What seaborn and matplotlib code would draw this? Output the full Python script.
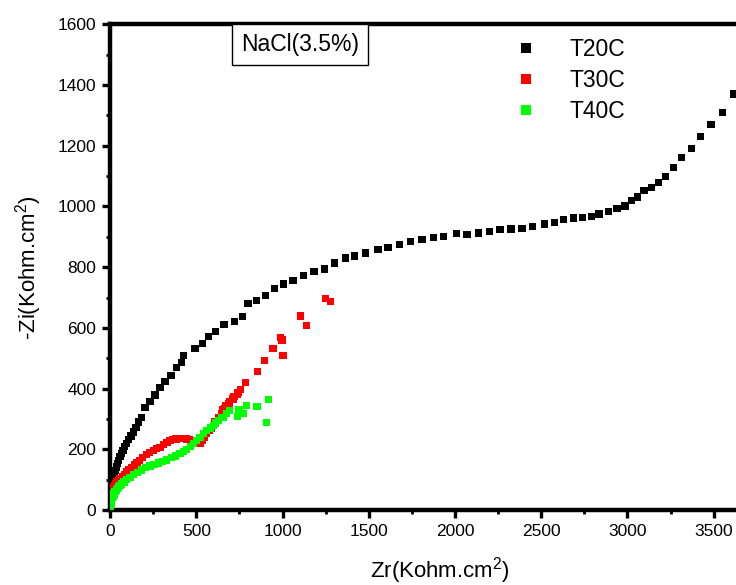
import numpy as np
import pandas as pd
import matplotlib
matplotlib.use("Agg")
import matplotlib.pyplot as plt
import seaborn as sns

# ---- data ----
t20_x = [0, 2, 4, 6, 9, 12, 16, 20, 25, 30, 36, 43, 50, 58, 66, 75, 85, 96, 108, 121,
         135, 150, 165, 180, 202, 231, 260, 289, 318, 353, 386, 415, 424, 492, 534, 571,
         611, 661, 723, 768, 800, 849, 901, 955, 1007, 1060, 1122, 1182, 1244, 1303, 1364,
         1419, 1481, 1554, 1612, 1676, 1743, 1809, 1873, 1934, 2007, 2069, 2135, 2198,
         2261, 2324, 2388, 2449, 2517, 2576, 2631, 2686, 2738, 2790, 2835, 2889, 2939,
         2985, 3022, 3056, 3096, 3140, 3178, 3222, 3267, 3311, 3369, 3425, 3484, 3552, 3617]
t20_y = [45, 55, 64, 72, 82, 90, 100, 110, 120, 131, 142, 153, 163, 175, 186, 197, 208,
         219, 232, 244, 257, 272, 290, 305, 337, 358, 379, 404, 424, 443, 470, 486, 508,
         532, 548, 571, 587, 610, 620, 637, 680, 690, 707, 729, 745, 756, 773, 786, 794,
         814, 830, 837, 847, 858, 866, 874, 885, 892, 899, 902, 911, 909, 913, 918, 924,
         926, 927, 934, 942, 948, 957, 962, 964, 968, 975, 984, 994, 1002, 1021, 1031,
         1052, 1062, 1080, 1099, 1129, 1161, 1191, 1231, 1270, 1309, 1371]

t30_x = [0, 2, 4, 7, 10, 14, 19, 25, 32, 40, 49, 58, 70, 82, 96, 110, 125, 140, 156, 172,
         190, 210, 230, 250, 270, 289, 310, 330, 347, 365, 382, 398, 415, 430, 445, 460,
         475, 490, 505, 521, 535, 548, 561, 575, 590, 607, 627, 646, 652, 665, 671, 690,
         694, 713, 719, 739, 742, 758, 785, 854, 897, 945, 989, 997, 1003, 1105, 1138,
         1248, 1279]
t30_y = [45, 50, 55, 60, 65, 70, 75, 80, 86, 92, 97, 102, 110, 117, 125, 133, 140, 148,
         156, 164, 172, 182, 190, 197, 202, 207, 215, 222, 229, 232, 234, 236, 236, 236,
         234, 231, 226, 221, 218, 220, 228, 240, 254, 262, 270, 290, 305, 318, 330, 335,
         344, 350, 357, 366, 374, 380, 388, 397, 421, 457, 492, 532, 568, 560, 508, 639,
         607, 697, 686]

t40_x = [0, 1, 2, 3, 5, 7, 10, 13, 17, 22, 28, 35, 42, 50, 58, 68, 80, 97, 115, 135, 158,
         180, 205, 231, 255, 280, 305, 328, 355, 380, 405, 425, 444, 465, 482, 500, 521,
         540, 560, 580, 598, 612, 627, 646, 656, 675, 694, 739, 748, 771, 791, 852, 906, 920]
t40_y = [0, 6, 11, 16, 22, 28, 34, 40, 46, 53, 60, 66, 71, 76, 80, 86, 92, 100, 108, 116,
         124, 132, 139, 145, 150, 155, 160, 165, 172, 178, 185, 192, 200, 210, 219, 228,
         238, 251, 262, 270, 279, 287, 295, 306, 306, 317, 328, 309, 330, 319, 344, 341,
         288, 363]

series_names = ["T20C", "T30C", "T40C"]
series_colors = ["#000000", "#ff0000", "#00ff00"]

df = pd.concat([
    pd.DataFrame({"Zr": t20_x, "Zi": t20_y, "series": series_names[0]}),
    pd.DataFrame({"Zr": t30_x, "Zi": t30_y, "series": series_names[1]}),
    pd.DataFrame({"Zr": t40_x, "Zi": t40_y, "series": series_names[2]}),
], ignore_index=True)

# ---- style ----
sns.set_style("ticks")
plt.rcParams["font.family"] = ["Liberation Sans", "DejaVu Sans"]
plt.rcParams["mathtext.fontset"] = "custom"
plt.rcParams["mathtext.rm"] = "Liberation Sans"
plt.rcParams["mathtext.it"] = "Liberation Sans"
plt.rcParams["text.color"] = "black"
plt.rcParams["axes.labelcolor"] = "black"
plt.rcParams["xtick.color"] = "black"
plt.rcParams["ytick.color"] = "black"
plt.rcParams["axes.edgecolor"] = "black"

W, H = 736, 585
fig = plt.figure(figsize=(W / 100, H / 100), dpi=100)
left_px, right_px, top_px, bot_px = 110.1, 770, 24.4, 510
ax = fig.add_axes([left_px / W, (H - bot_px) / H, (right_px - left_px) / W, (bot_px - top_px) / H])

sns.scatterplot(data=df, x="Zr", y="Zi", hue="series", hue_order=series_names,
                palette=dict(zip(series_names, series_colors)), marker="s", s=27,
                edgecolor="none", linewidth=0, ax=ax, legend=True, zorder=3)

ax.set_xlim(0, (right_px - left_px) / 0.17246)
ax.set_ylim(0, 1600)
ax.set_xticks(np.arange(0, 3501, 500))
ax.set_xticks(np.arange(250, 3800, 500), minor=True)
ax.set_yticks(np.arange(0, 1601, 200))
ax.set_yticks(np.arange(100, 1600, 200), minor=True)

for sp in ax.spines.values():
    sp.set_linewidth(3.2)
    sp.set_color("black")
ax.spines["right"].set_visible(False)
ax.tick_params(which="major", direction="out", length=6, width=2.4, labelsize=12.5, pad=4,
               colors="black")
ax.tick_params(which="minor", direction="out", length=3, width=2.0, colors="black")

ax.set_xlabel("Zr(Kohm.cm$^2$)", fontsize=16, labelpad=12)
ax.set_ylabel("-Zi(Kohm.cm$^2$)", fontsize=16, labelpad=10)

leg = ax.legend(frameon=False, fontsize=16.5, loc="upper left",
                bbox_to_anchor=((489 - left_px) / (right_px - left_px), 1.0),
                markerscale=1.3, handletextpad=0.9, labelspacing=0.35, borderaxespad=0.2)

ax.text((300 - left_px) / 0.17246, (bot_px - 44.5) / ((bot_px - top_px) / 1600), "NaCl(3.5%)",
        fontsize=16.5, ha="center", va="center",
        bbox=dict(boxstyle="square,pad=0.38", facecolor="white", edgecolor="black", linewidth=1.0))

fig.savefig("out.png", dpi=100)
